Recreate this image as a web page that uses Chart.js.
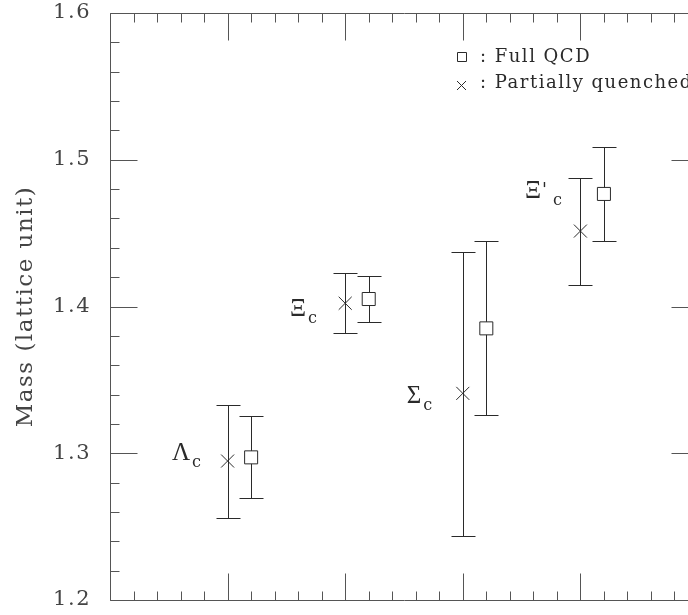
<!DOCTYPE html>
<html>
<head>
<meta charset="utf-8">
<script src="https://cdn.jsdelivr.net/npm/chart.js@4/dist/chart.umd.min.js"></script>
<style>
  html, body { margin: 0; padding: 0; background: #fff; overflow: hidden; }
  #wrap { position: relative; width: 720px; height: 615px; }
</style>
</head>
<body>
<div id="wrap"><canvas id="c"></canvas></div>
<script>
// ---- data ----
const particles   = ['Λ', 'Ξ', 'Σ', 'Ξ′'];
const xPartial    = [1, 2, 3, 4];
const xFull       = [1.2, 2.2, 3.2, 4.2];
const massPartial = [1.2947, 1.4022, 1.3408, 1.4514];
const lowPartial  = [1.2561, 1.3817, 1.2438, 1.4149];
const highPartial = [1.3331, 1.4231, 1.4371, 1.4878];
const massFull    = [1.2972, 1.4051, 1.3851, 1.4767];
const lowFull     = [1.2695, 1.3894, 1.3261, 1.4449];
const highFull    = [1.3252, 1.4210, 1.4446, 1.5089];
const yTickValues = [1.2, 1.3, 1.4, 1.5, 1.6];
const yTickLabels = ['1.2', '1.3', '1.4', '1.5', '1.6'];
const seriesNames = ['Full QCD', 'Partially quenched'];
const yTitle      = 'Mass (lattice unit)';

// label anchors (data coordinates) for particle names
const labelX   = [0.527, 1.53, 2.523, 3.529];
const labelY   = [1.2954, 1.3935, 1.3342, 1.4739];

const INK = '#2a2a2a';
const FRAME = '#555';
const FONT = '"DejaVu Serif", "Liberation Serif", serif';
const GREEK = '"Liberation Serif", "DejaVu Serif", serif';

const errorBars = {
  id: 'errorBars',
  beforeDatasetsDraw(chart) {
    const ctx = chart.ctx, xs = chart.scales.x, ys = chart.scales.y;
    ctx.save();
    ctx.strokeStyle = INK;
    ctx.lineWidth = 1;
    const draw = (xv, lo, hi) => {
      for (let i = 0; i < xv.length; i++) {
        const px = Math.round(xs.getPixelForValue(xv[i])) + 0.5;
        const pl = Math.round(ys.getPixelForValue(lo[i])) + 0.5;
        const ph = Math.round(ys.getPixelForValue(hi[i])) + 0.5;
        ctx.beginPath();
        ctx.moveTo(px, pl); ctx.lineTo(px, ph);
        ctx.moveTo(px - 12, pl); ctx.lineTo(px + 12, pl);
        ctx.moveTo(px - 12, ph); ctx.lineTo(px + 12, ph);
        ctx.stroke();
      }
    };
    draw(xPartial, lowPartial, highPartial);
    draw(xFull, lowFull, highFull);
    ctx.restore();
  }
};

const spacing = {
  id: 'spacing',
  beforeDraw(chart) { chart.ctx.letterSpacing = '1.5px'; },
  afterDraw(chart) { chart.ctx.letterSpacing = '0px'; }
};

const frame = {
  id: 'frame',
  afterDraw(chart) {
    const ctx = chart.ctx, xs = chart.scales.x, ys = chart.scales.y;
    const a = chart.chartArea;
    const L = Math.round(a.left) + 0.5, R = Math.round(a.right) + 0.5;
    const T = Math.round(a.top) + 0.5, B = Math.round(a.bottom) + 0.5;
    ctx.save();
    ctx.strokeStyle = FRAME;
    ctx.lineWidth = 1;
    ctx.beginPath();
    ctx.rect(L, T, R - L, B - T);
    // y ticks (major every 0.1, minor every 0.02)
    for (let i = 0; i <= 20; i++) {
      const v = 1.2 + i * 0.02;
      const len = (i % 5 === 0) ? 27 : 9;
      const py = Math.round(ys.getPixelForValue(v)) + 0.5;
      ctx.moveTo(L, py); ctx.lineTo(L + len, py);
      ctx.moveTo(R, py); ctx.lineTo(R - len, py);
    }
    // x ticks (major every 1, minor every 0.2)
    for (let i = 0; i <= 25; i++) {
      const v = i * 0.2;
      const len = (i % 5 === 0) ? 27 : 9;
      const px = Math.round(xs.getPixelForValue(v)) + 0.5;
      ctx.moveTo(px, B); ctx.lineTo(px, B - len);
      ctx.moveTo(px, T); ctx.lineTo(px, T + len);
    }
    ctx.stroke();

    // particle labels
    ctx.fillStyle = INK;
    ctx.textBaseline = 'alphabetic';
    ctx.textAlign = 'left';
    ctx.letterSpacing = '0px';
    for (let i = 0; i < particles.length; i++) {
      const px = xs.getPixelForValue(labelX[i]);
      const py = ys.getPixelForValue(labelY[i]);
      const name = particles[i];
      const base = name[0];
      ctx.font = '25px ' + GREEK;
      ctx.fillText(base, px, py);
      let w = ctx.measureText(base).width;
      if (name.length > 1) {
        ctx.font = '18px ' + FONT;
        ctx.fillText('\'', px + w + 1, py - 2);
        w += 10;
      }
      ctx.font = '16px ' + FONT;
      ctx.fillText('c', px + w + 2, py + 7);
    }

    // legend
    ctx.letterSpacing = '1.5px';
    ctx.font = '18px ' + FONT;
    ctx.strokeStyle = INK;
    ctx.beginPath();
    ctx.rect(457.5, 52.5, 9, 9);
    ctx.moveTo(457, 81); ctx.lineTo(466, 90);
    ctx.moveTo(466, 81); ctx.lineTo(457, 90);
    ctx.stroke();
    ctx.fillText(': ' + seriesNames[0], 480, 62);
    ctx.fillText(': ' + seriesNames[1], 480, 88);
    ctx.restore();
  }
};

const toPoints = (xv, yv) => xv.map((x, i) => ({ x: x, y: yv[i] }));

new Chart(document.getElementById('c'), {
  type: 'scatter',
  data: {
    datasets: [
      {
        label: seriesNames[0],
        data: toPoints(xFull, massFull),
        pointStyle: 'rect',
        radius: 9.2,
        borderColor: INK,
        backgroundColor: '#ffffff',
        borderWidth: 1
      },
      {
        label: seriesNames[1],
        data: toPoints(xPartial, massPartial),
        pointStyle: 'crossRot',
        radius: 9.2,
        borderColor: INK,
        backgroundColor: INK,
        borderWidth: 1
      }
    ]
  },
  options: {
    responsive: true,
    maintainAspectRatio: false,
    devicePixelRatio: 1,
    animation: false,
    layout: { padding: { top: 13, right: 22, left: 0, bottom: 0 } },
    plugins: { legend: { display: false }, tooltip: { enabled: false } },
    scales: {
      x: {
        type: 'linear', min: 0, max: 5,
        grid: { display: false },
        border: { display: false },
        ticks: { display: false },
        afterFit(s) { s.height = 15; s.paddingLeft = 0; s.paddingRight = 0; }
      },
      y: {
        type: 'linear', min: 1.2, max: 1.6,
        grid: { display: false },
        border: { display: false },
        afterBuildTicks(s) { s.ticks = yTickValues.map(v => ({ value: v })); },
        ticks: {
          padding: 11,
          color: '#444',
          font: { family: FONT, size: 21 },
          callback(v) {
            const i = yTickValues.findIndex(t => Math.abs(t - v) < 1e-9);
            return i >= 0 ? yTickLabels[i] : '';
          }
        },
        title: {
          display: true,
          text: yTitle,
          color: '#444',
          font: { family: FONT, size: 23 },
          padding: { top: 12, bottom: 0 }
        },
        afterFit(s) { s.width = 110; s.paddingTop = 0; s.paddingBottom = 0; }
      }
    }
  },
  plugins: [spacing, errorBars, frame]
});
</script>
</body>
</html>
